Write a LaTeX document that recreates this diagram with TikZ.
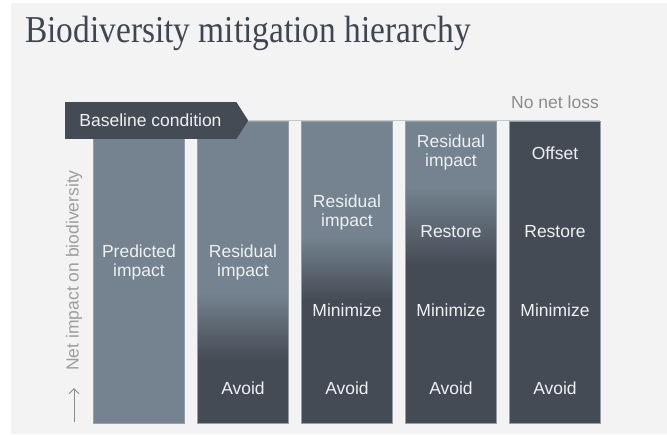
\documentclass[tikz,border=0pt]{standalone}
\usepackage{fontspec}
\setmainfont{Liberation Sans}
\newfontfamily\titlefamily[FakeStretch=0.88]{Liberation Serif}
\usetikzlibrary{arrows.meta,calc,positioning}
\definecolor{pagebg}{RGB}{243,243,243}
\definecolor{slate}{RGB}{116,131,143}
\definecolor{dusk}{RGB}{69,75,84}
\definecolor{inkgrey}{RGB}{62,70,81}
\definecolor{mutedtext}{RGB}{140,140,140}
\definecolor{rulegrey}{RGB}{196,198,200}
\definecolor{coledge}{RGB}{150,158,166}
\definecolor{labelwhite}{RGB}{238,240,242}
\newcommand{\LabelFont}{\fontsize{17.5}{19}\selectfont}
\newcommand{\HeadFont}{\titlefamily\fontsize{38}{40}\selectfont}
\tikzset{
  col/.style={rectangle, fill=dusk, inner sep=0pt, minimum width=90pt, minimum height=301pt},
  coledgeline/.style={draw=coledge, line width=0.8pt},
  fade/.style={top color=slate, bottom color=dusk},
  lbl/.style={align=center, font=\LabelFont, text=labelwhite, inner sep=0pt},
  banner/.style={rectangle, fill=dusk, inner sep=0pt, minimum width=171pt, minimum height=37pt, font=\LabelFont, text=labelwhite},
  muted/.style={font=\LabelFont, text=mutedtext, inner sep=0pt},
  baserule/.style={draw=rulegrey, line width=1pt},
  axisarrow/.style={-{Straight Barb[length=5pt, width=10pt]}, draw=mutedtext, line width=0.9pt}
}

\begin{document}
\begin{tikzpicture}[x=1pt, y=-1pt]
  \useasboundingbox (0,0) rectangle (667,434);
  \fill[pagebg] (11,3) rectangle (667,434);
  \node[anchor=base west, inner sep=0pt, font=\HeadFont, text=inkgrey] (title) at (25,42) {Biodiversity mitigation hierarchy};

  % columns
  \node[col, fill=slate, minimum height=285pt] (c1) at (139,280.5) {};
  \foreach \i in {2,...,5} \node[col] (c\i) at ({35+104*\i},272.5) {};
  \foreach \i/\a/\b in {2/293/360, 3/237/300, 4/187/265} {
    \fill[slate] (c\i.north west) rectangle (c\i.east |- 0,\a);
    \shade[fade] (c\i.west |- 0,\a) rectangle (c\i.east |- 0,\b);
  }
  \foreach \i in {1,...,5} \draw[coledgeline] (c\i.north west) rectangle (c\i.south east);

  % baseline
  \node[banner] (base) at (150.5,120.5) {Baseline condition};
  \coordinate (tip) at ($(base.east)+(12,0)$);
  \fill[dusk] (base.north east) -- (tip) -- (base.south east) -- cycle;
  \coordinate (lineend) at (c5.east |- tip);
  \draw[baserule] (tip) -- (lineend);
  \node[muted] (nonet) at (555,102) {No net loss};

  % axis
  \node[muted, rotate=90, text=mutedtext!85] (axis) at (74,270.5) {Net impact on biodiversity};
  \coordinate (axbot) at (74,422);
  \coordinate (axtop) at (74,388);
  \draw[axisarrow] (axbot) -- (axtop);

  % labels
  \node[lbl] (c1t) at (c1 |- 0,262) {Predicted\\impact};
  \node[lbl] (c2t) at (c2 |- 0,262) {Residual\\impact};
  \node[lbl] (c3t) at (c3 |- 0,212) {Residual\\impact};
  \node[lbl] (c4t) at (c4 |- 0,152) {Residual\\impact};
  \node[lbl] (c5t) at (c5 |- 0,153) {Offset};
  \foreach \i in {4,5} \node[lbl] (rest\i) at (c\i |- 0,232) {Restore};
  \foreach \i in {3,4,5} \node[lbl] (mini\i) at (c\i |- 0,310) {Minimize};
  \foreach \i in {2,...,5} \node[lbl] (avoid\i) at (c\i |- 0,388) {Avoid};
\end{tikzpicture}
\end{document}
